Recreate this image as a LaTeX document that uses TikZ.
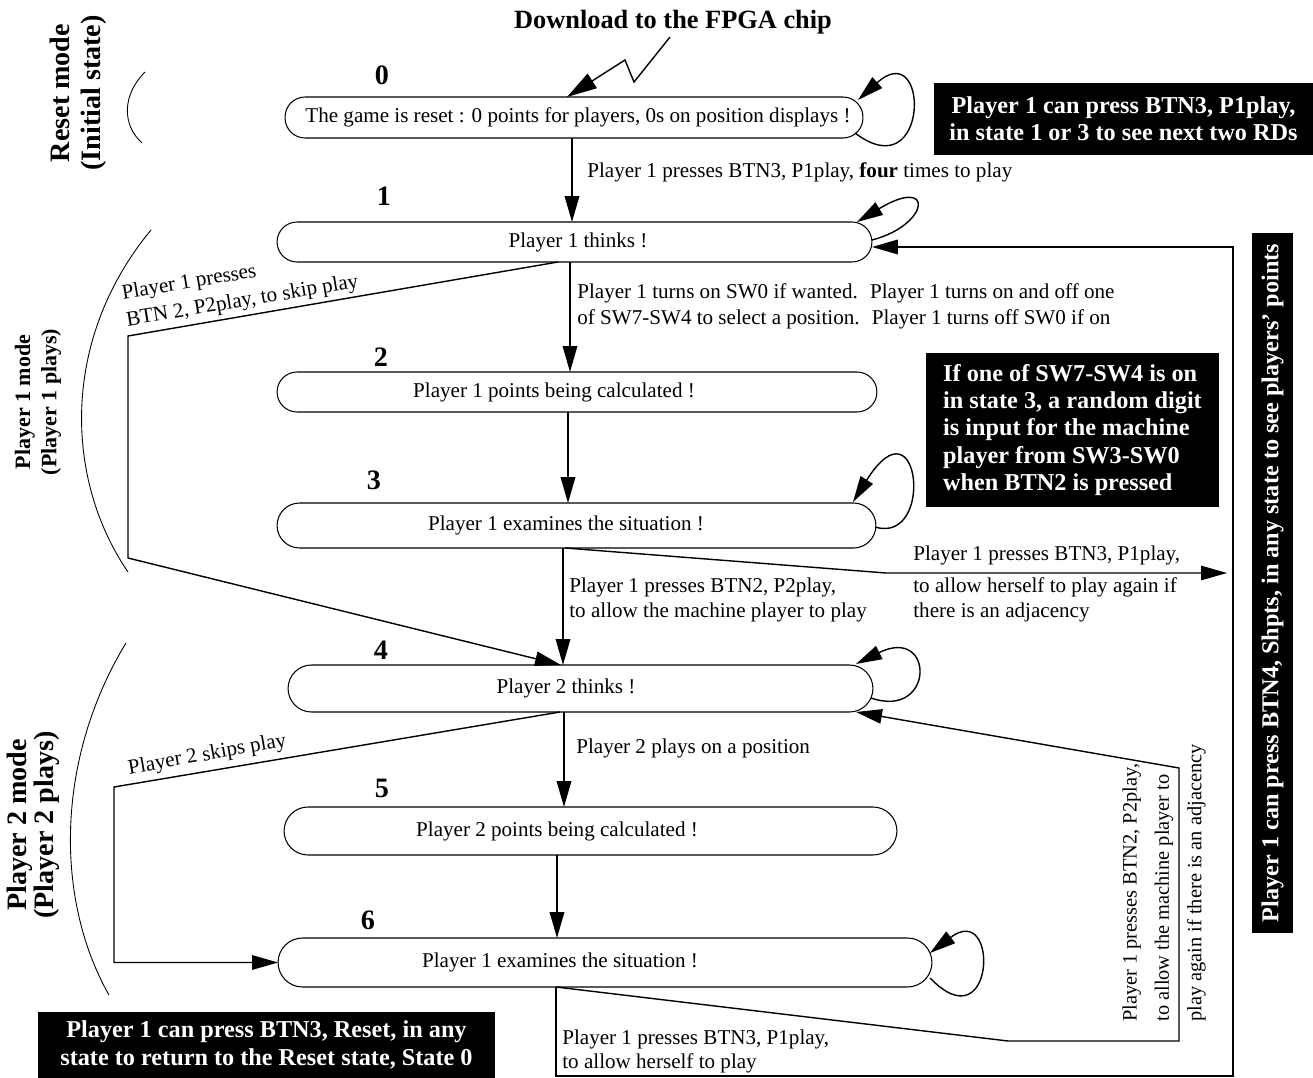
\documentclass[tikz,border=0pt]{standalone}
\usepackage{fontspec}
\setmainfont{Liberation Serif}
\usetikzlibrary{arrows.meta,calc}

\tikzset{
  state/.style={draw, rounded corners=0.4cm, minimum height=0.8cm, inner sep=0pt, outer sep=0pt, line width=0.6pt},
  num/.style={font=\bfseries\fontsize{16}{18}\selectfont, inner sep=0pt},
  txt/.style={font=\fontsize{12}{14}\selectfont, inner sep=0pt, align=left},
  note/.style={fill=black, text=white, font=\bfseries\fontsize{13.8}{15.6}\selectfont, inner sep=0pt},
  mode/.style={rotate=90, font=\bfseries\fontsize{16}{17.5}\selectfont, align=center, inner sep=0pt},
  arr/.style={-{Triangle[length=5.2mm,width=2.9mm]}, line width=1.1pt},
  link/.style={-{Triangle[length=5.2mm,width=2.9mm]}, line width=0.8pt},
}

\begin{document}
\begin{tikzpicture}[x=0.02cm, y=-0.02cm]
  \useasboundingbox (0,0) rectangle (1313,1078);

  % title
  \node[font=\bfseries\fontsize{15}{17}\selectfont] (title) at (673,22) {Download to the FPGA chip};

  % mode labels and their arcs
  \node[mode] (m0) at (78,93) {Reset mode\\(Initial state)};
  \node[mode, font=\bfseries\fontsize{12.5}{15}\selectfont] (m1) at (38,402) {Player 1 mode\\(Player 1 plays)};
  \node[mode, font=\bfseries\fontsize{16}{15.5}\selectfont] (m2) at (33,825) {Player 2 mode\\(Player 2 plays)};
  \draw[line width=0.5pt] (145,72) .. controls (122,95) and (122,125) .. (142,143);
  \draw[line width=0.5pt] (151,230) .. controls (60,340) and (65,480) .. (128,572);
  \draw[line width=0.5pt] (126,643) .. controls (55,760) and (55,900) .. (109,995);

  % states
  \node[state, minimum width=11.56cm, minimum height=0.82cm] (s0) at (574,117.5) {};
  \node[state, minimum width=11.9cm] (s1) at (574.5,242) {};
  \node[state, minimum width=12cm] (s2) at (577,392) {};
  \node[state, minimum width=11.98cm, minimum height=0.9cm, rounded corners=0.45cm] (s3) at (576.5,525.5) {};
  \node[state, minimum width=11.7cm, minimum height=0.94cm, rounded corners=0.47cm] (s4) at (580.5,688.5) {};
  \node[state, minimum width=12.26cm, minimum height=0.96cm, rounded corners=0.48cm] (s5) at (590.5,831) {};
  \node[state, minimum width=13.08cm, minimum height=0.98cm, rounded corners=0.49cm] (s6) at (605,962.5) {};

  \node[txt] (t0) at (578,117.5) {The game is reset : 0 points for players, 0s on position displays !};
  \node[txt] (t1) at (578,242) {Player 1 thinks !};
  \node[txt] (t2) at (554,392) {Player 1 points being calculated !};
  \node[txt] (t3) at (566,525.5) {Player 1 examines the situation !};
  \node[txt] (t4) at (566,688.5) {Player 2 thinks !};
  \node[txt] (t5) at (557,831) {Player 2 points being calculated !};
  \node[txt] (t6) at (560,962.5) {Player 1 examines the situation !};

  \node[num] (n0) at (382,75) {0};
  \node[num] (n1) at (384,196) {1};
  \node[num] (n2) at (381,357) {2};
  \node[num] (n3) at (374,480) {3};
  \node[num] (n4) at (381,650) {4};
  \node[num] (n5) at (382,788) {5};
  \node[num] (n6) at (368,920) {6};

  % black notes
  \node[note, minimum width=7.58cm, minimum height=1.44cm, align=center] (b0) at (1123.5,119) {Player 1 can press BTN3, P1play,\\in state 1 or 3 to see next two RDs};
  \node[note, minimum width=5.86cm, minimum height=3.08cm, align=left] (b1) at (1072.5,430) {If one of SW7-SW4 is on\\in state 3, a random digit\\is input for the machine\\player from SW3-SW0\\when BTN2 is pressed};
  \node[note, rotate=90, minimum width=14cm, minimum height=0.82cm] (b2) at (1272.5,583) {Player 1 can press BTN4, Shpts, in any state to see players’ points};
  \node[note, minimum width=9.14cm, minimum height=1.32cm, align=center] (b3) at (266.5,1045) {Player 1 can press BTN3, Reset, in any\\state to return to the Reset state, State 0};

  % download arrow
  \coordinate (z1) at (670,37);
  \coordinate (z2) at (634,82);
  \coordinate (z3) at (625,60);
  \draw[link, -{Triangle[length=6mm,width=3.4mm]}] (z1) -- (z2) -- (z3) -- (567,0 |- s0.north);

  % main transitions
  \draw[arr] (572,0 |- s0.south) -- (572,0 |- s1.north);
  \draw[arr] (570,0 |- s1.south) -- (570,0 |- s2.north);
  \draw[arr] (568,0 |- s2.south) -- (568,0 |- s3.north);
  \draw[arr] (563,0 |- s3.south) -- (563,0 |- s4.north);
  \draw[arr] (564,0 |- s4.south) -- (564,0 |- s5.north);
  \draw[arr] (557,0 |- s5.south) -- (557,0 |- s6.north);

  % self loops
  \draw[link] (855,133) .. controls +(75,57) and +(72,-65) .. (858,100);
  \draw[link] (872,240) .. controls +(58,-15) and +(78,-47) .. (857,222);
  \draw[link] (875,527) .. controls +(60,18) and +(67,-107) .. (853,502);
  \draw[link] (871,698) .. controls +(64,22) and +(79,-39) .. (856,664);
  \draw[link] (930,978) .. controls +(65,67) and +(70,-53) .. (930,953);

  % skips
  \draw[link] (558,0 |- s1.south) -- (128,336) -- (128,558) -- (561,0 |- s4.north);
  \draw[link] (560,0 |- s4.south) -- (114,787) -- (114,0 |- s6.west) -- (s6.west);

  % returns
  \coordinate (r3) at (886,573);
  \draw[link] (565,0 |- s3.south) -- (r3) -- (1227,573);
  \draw[arr] (556,0 |- s6.south) -- (556,1076) -- (1233,1076) -- (1233,247) -- (s1.east |- 0,247);
  \draw[link] (556,0 |- s6.south) -- (1008,1041) -- (1179,1041) -- (1179,768) -- (856,0 |- s4.south);

  % transition labels
  \node[txt, anchor=west] (l01) at (587,172) {Player 1 presses BTN3, P1play, \textbf{four} times to play};
  \node[txt, anchor=west, font=\fontsize{12}{14.8}\selectfont] (l12) at (577,306) {Player 1 turns on SW0 if wanted.~ Player 1 turns on and off one\\of SW7-SW4 to select a position.~ Player 1 turns off SW0 if on};
  \node[txt, anchor=west] (l34) at (569,600) {Player 1 presses BTN2, P2play,\\to allow the machine player to play};
  \node[txt, anchor=west] (l3a) at (913,555) {Player 1 presses BTN3, P1play,};
  \node[txt, anchor=west] (l3b) at (913,600) {to allow herself to play again if\\there is an adjacency};
  \node[txt, anchor=west] (l45) at (576,748) {Player 2 plays on a position};
  \node[txt, anchor=south west, rotate=9.5, font=\fontsize{12}{15.5}\selectfont] (lk1) at (128,331) {Player 1 presses\\BTN 2, P2play, to skip play};
  \node[txt, anchor=south west, rotate=10] (lk2) at (130,779) {Player 2 skips play};
  \node[txt, anchor=north west, font=\fontsize{12}{13.5}\selectfont] (l61) at (562,1030) {Player 1 presses BTN3, P1play,\\to allow herself to play};
  \node[txt, anchor=south west, rotate=90, font=\fontsize{11.6}{18.4}\selectfont] (l64) at (1206,1022) {Player 1 presses BTN2, P2play,\\to allow the machine player to\\play again if there is an adjacency};
\end{tikzpicture}
\end{document}
